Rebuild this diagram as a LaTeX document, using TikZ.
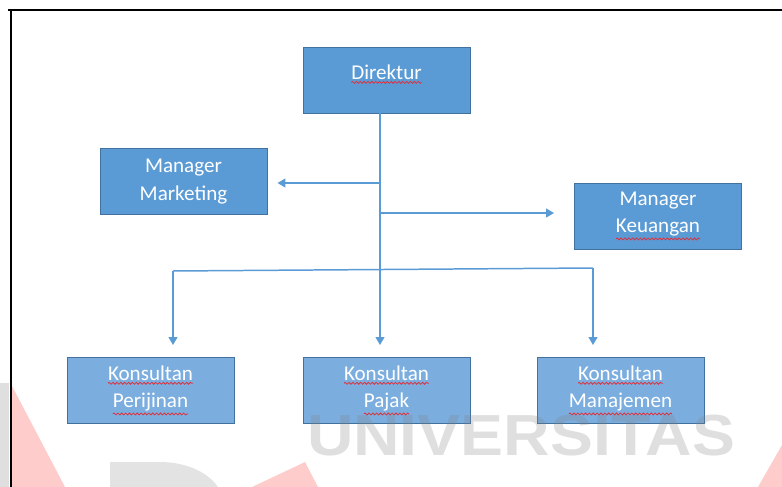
\documentclass[tikz,border=0pt]{standalone}
\usepackage{fontspec}
\setmainfont{Carlito}
\newfontfamily\wmfont{Liberation Sans}
\usetikzlibrary{arrows.meta,decorations.pathmorphing}
\definecolor{boxblue}{HTML}{5B9BD5}
\definecolor{boxpale}{HTML}{7BAEDF}
\definecolor{boxedge}{HTML}{41719C}
\definecolor{lineblue}{HTML}{5B9BD5}
\definecolor{spellred}{HTML}{E0303A}
\newcommand{\wavy}[1]{\tikz[baseline=(w.base)]{\node[inner sep=0pt, outer sep=0pt, minimum width=0pt, minimum height=0pt, draw=none, fill=none] (w) {#1};
    \draw[spellred, line width=0.45pt, decorate, decoration={snake, amplitude=0.55pt, segment length=2.2pt}] ([yshift=-1.6pt]w.south west) -- ([yshift=-1.6pt]w.south east);}}
\tikzset{
    jabatan/.style={draw=boxedge, line width=0.55pt, fill=boxblue, text=white, minimum width=3.34cm, minimum height=1.32cm, inner sep=0pt, align=center, font=\fontsize{12}{15.5}\selectfont},
    konsultan/.style={jabatan, fill=boxpale},
    garis/.style={draw=lineblue, line width=0.85pt},
    panah/.style={garis, -{Triangle[width=5pt, length=4.5pt]}},
}
\begin{document}
\begin{tikzpicture}[x=0.02cm, y=-0.02cm]
                \useasboundingbox (0, 0) rectangle (782, 487);
                \draw [line width=1.2pt] (8, 10) -- (782, 10);
                \draw [line width=1pt] (11, 10) -- (11, 487);
                \node [jabatan, text depth=9pt] (dir) at (386.5, 80) {\wavy{Direktur}};
                \node [jabatan] (mmkt) at (183.5, 181.5) {Manager\\Marketing};
                \node [jabatan] (mkeu) at (658, 216) {Manager\\\wavy{Keuangan}};
                \node [konsultan] (kper) at (150.5, 390.5) {\wavy{Konsultan}\\\wavy{Perijinan}};
                \node [konsultan] (kpaj) at (386.5, 390.5) {\wavy{Konsultan}\\\wavy{Pajak}};
                \node [konsultan] (kman) at (620.5, 390.5) {\wavy{Konsultan}\\\wavy{Manajemen}};
                \coordinate (tmkt) at (380, 183);
                \coordinate (tkeu) at (380, 213);
                \coordinate (bkiri) at (173, 271);
                \coordinate (bkanan) at (593, 268);
                \draw [panah, shorten >=0.24cm] (dir.south -| tmkt) -- (kpaj.north -| tmkt);
                \draw [panah, shorten >=0.2cm] (tmkt) -- (tmkt -| mmkt.east);
                \draw [panah, shorten >=0.4cm] (tkeu) -- (tkeu -| mkeu.west);
                \draw [garis] (bkiri) -- (bkanan);
                \draw [panah, shorten >=0.24cm] (bkiri) -- (bkiri |- kper.north);
                \draw [panah, shorten >=0.24cm] (bkanan) -- (bkanan |- kman.north);
                \fill [gray!25] (0, 383) rectangle (9, 487);
                \fill [red, opacity=0.2] (12, 386) -- (65, 487) -- (12, 487) -- cycle;
                \fill [gray, opacity=0.22] (110, 487) -- (110, 462) -- (160, 462) .. controls (190, 462) and (210, 475) .. (218, 487) -- cycle;
                \fill [red, opacity=0.2] (252, 487) -- (305, 462) -- (318, 487) -- cycle;
                \fill [red, opacity=0.2] (782, 445) -- (758, 487) -- (782, 487) -- cycle;
                \node [anchor=base, inner sep=0pt, text=gray, opacity=0.25, xscale=1.11, font=\wmfont\bfseries\fontsize{33}{33}\selectfont] (wm) at (521, 455) {UNIVERSITAS};
            \end{tikzpicture}
\end{document}
